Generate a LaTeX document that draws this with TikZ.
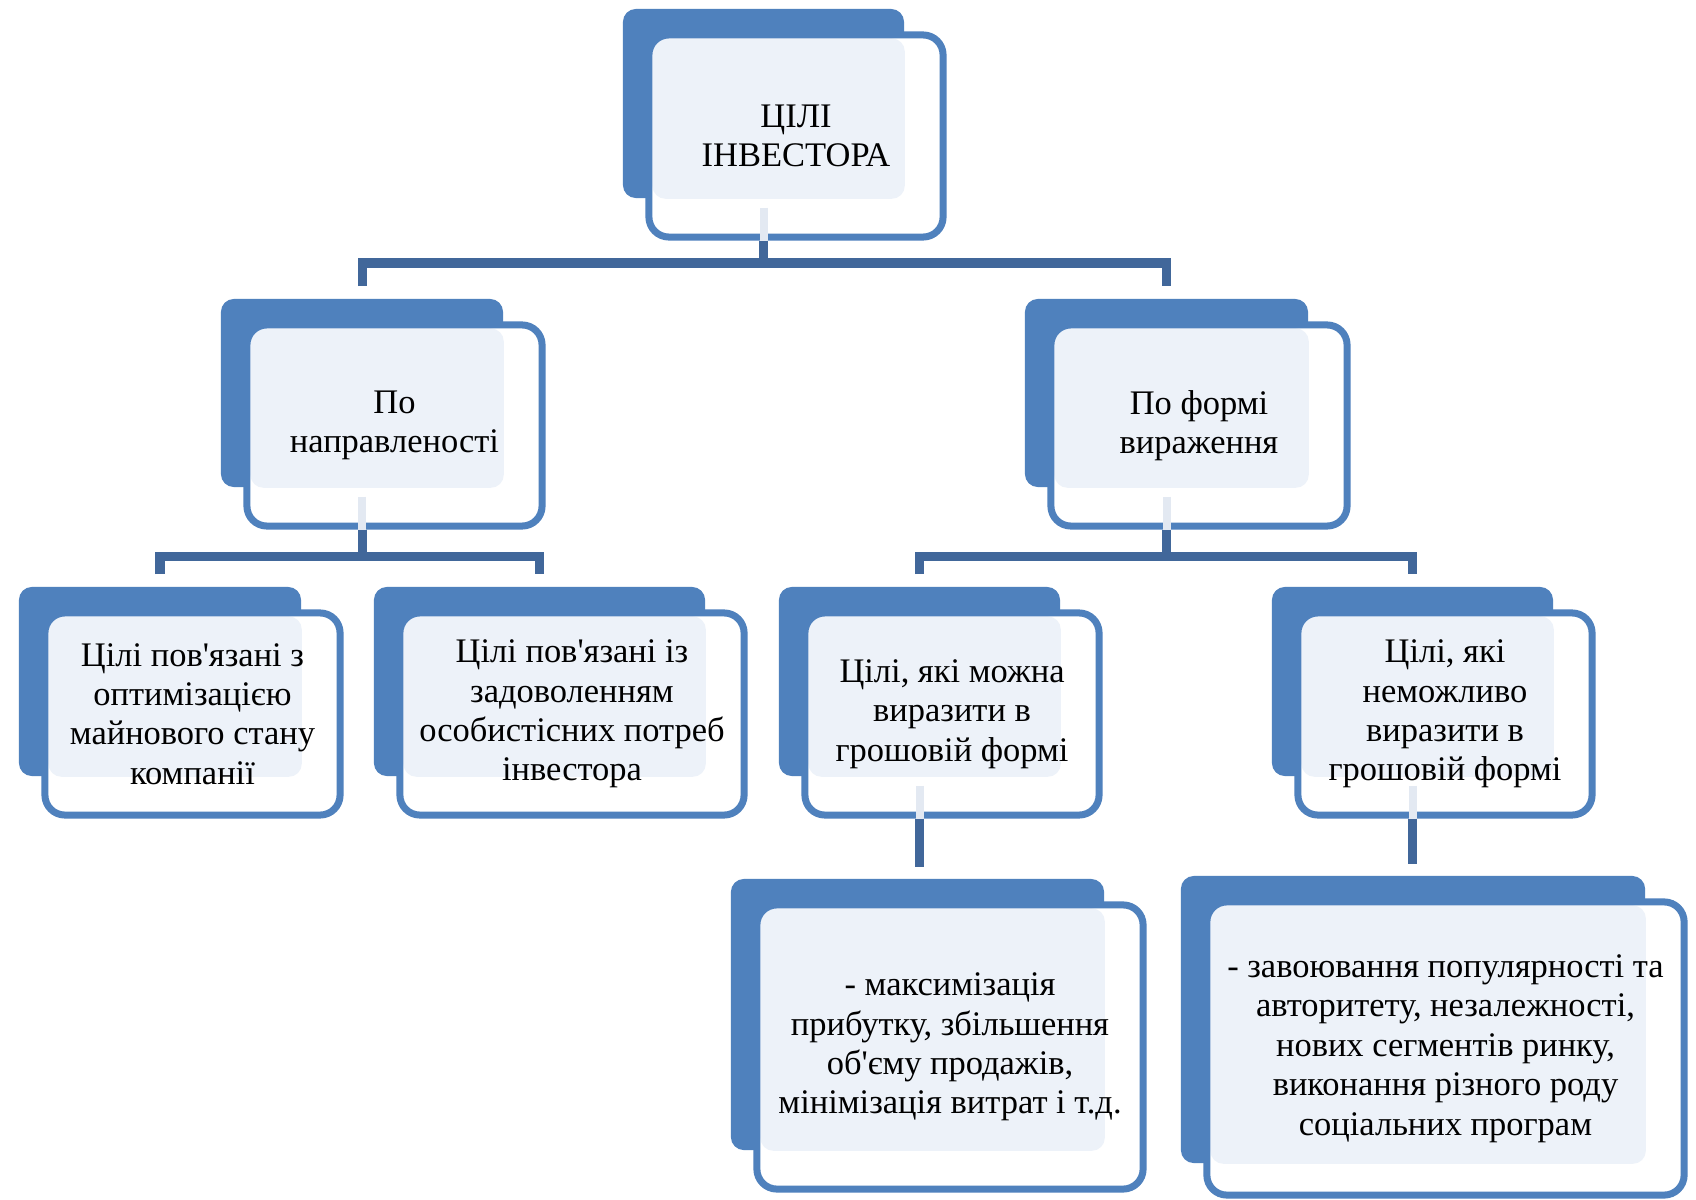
\documentclass[tikz,border=0pt]{standalone}
\usepackage{fontspec}
\setmainfont{Liberation Serif}
\newfontfamily\goalfont{LiberationSerif}[Extension=.ttf, UprightFont=*-Regular]

\definecolor{boxblue}{HTML}{4F81BD}
\definecolor{linkblue}{HTML}{41679A}
\definecolor{paleblue}{HTML}{EDF2F9}
\definecolor{ghostblue}{HTML}{E3E9F2}

\tikzset{
  backbox/.style={fill=boxblue, rounded corners=0.13cm, inner sep=0pt},
  frontbox/.style={draw=boxblue, line width=0.07cm, fill=white, rounded corners=0.2cm,
    inner sep=0pt, align=center, font=\goalfont\fontsize{9.8}{11.2}\selectfont,
    path picture={\fill[paleblue, rounded corners=0.13cm]
      ([shift={(0.035cm,-0.035cm)}]path picture bounding box.north west) rectangle (#1.south east);}},
  link/.style={draw=linkblue, line width=0.09cm},
  ghost/.style={draw=ghostblue, line width=0.08cm}
}

\begin{document}
\begin{tikzpicture}[x=0.01cm, y=-0.01cm]
    \useasboundingbox[fill=white] (0,0) rectangle (1696,1200);

    % top
    \node[backbox, minimum width=2.81cm, minimum height=1.89cm] (topB) at (763.5,103.5) {};
    \node[frontbox=topB, minimum width=2.94cm, minimum height=2.02cm] (top) at (796,136) {ЦІЛІ\\ІНВЕСТОРА};

    % second row
    \node[backbox, minimum width=2.82cm, minimum height=1.88cm] (dirB) at (362,393) {};
    \node[frontbox=dirB, minimum width=2.95cm, minimum height=2.01cm] (dir) at (394.5,425.5) {По\\направленості};
    \node[backbox, minimum width=2.83cm, minimum height=1.88cm] (formB) at (1166.5,393) {};
    \node[frontbox=formB, minimum width=2.96cm, minimum height=2.01cm] (form) at (1199,425.5) {По формі\\вираження};

    % third row
    \node[backbox, minimum width=2.82cm, minimum height=1.89cm] (aB) at (160,681.5) {};
    \node[frontbox=aB, minimum width=2.95cm, minimum height=2.02cm] (a) at (192.5,714) {Цілі пов'язані з\\оптимізацією\\майнового стану\\компанії};
    \node[backbox, minimum width=3.31cm, minimum height=1.89cm] (bB) at (539.5,681.5) {};
    \node[frontbox=bB, minimum width=3.44cm, minimum height=2.02cm] (b) at (572,714) {Цілі пов'язані із\\задоволенням\\особистісних потреб\\інвестора};
    \node[backbox, minimum width=2.81cm, minimum height=1.89cm] (cB) at (919.5,681.5) {};
    \node[frontbox=cB, minimum width=2.94cm, minimum height=2.02cm] (c) at (952,714) {Цілі, які можна\\виразити в\\грошовій формі};
    \node[backbox, minimum width=2.81cm, minimum height=1.89cm] (dB) at (1412.5,681.5) {};
    \node[frontbox=dB, minimum width=2.94cm, minimum height=2.02cm] (d) at (1445,714) {Цілі, які\\неможливо\\виразити в\\грошовій формі};

    % bottom row
    \node[backbox, minimum width=3.73cm, minimum height=2.71cm] (eB) at (917.5,1014.5) {};
    \node[frontbox=eB, minimum width=3.86cm, minimum height=2.84cm] (e) at (950,1047) {- максимізація\\прибутку, збільшення\\об'єму продажів,\\мінімізація витрат і т.д.};
    \node[backbox, minimum width=4.64cm, minimum height=2.87cm] (fB) at (1413,1019.5) {};
    \node[frontbox=fB, minimum width=4.77cm, minimum height=2.93cm] (f) at (1445.5,1048.5) {- завоювання популярності та\\авторитету, незалежності,\\нових сегментів ринку,\\виконання різного роду\\соціальних програм};

    \draw[ghost] ([yshift=-0.09cm]topB.south) -- (topB.south |- top.south);
    \draw[ghost] ([yshift=-0.09cm]dirB.south) -- (dirB.south |- dir.south);
    \draw[ghost] ([yshift=-0.09cm]formB.south) -- (formB.south |- form.south);
    \draw[ghost] ([yshift=-0.09cm]cB.south) -- (cB.south |- c.south);
    \draw[ghost] ([yshift=-0.09cm]dB.south) -- (dB.south |- d.south);

    \draw[link] (topB.south |- top.south) -- (topB.south |- 0,263);
    \draw[link] ([yshift=0.12cm]dirB.north) |- (topB.south |- 0,263) -| ([yshift=0.12cm]formB.north);
    \draw[link] (dirB.south |- dir.south) -- (dirB.south |- 0,556);
    \draw[link] ([yshift=0.12cm]aB.north) |- (dirB.south |- 0,556) -| ([yshift=0.12cm]bB.north);
    \draw[link] (formB.south |- form.south) -- (formB.south |- 0,556);
    \draw[link] ([yshift=0.12cm]cB.north) |- (formB.south |- 0,556) -| ([yshift=0.12cm]dB.north);
    \draw[link] (cB.south |- c.south) -- ([yshift=0.11cm]cB.south |- eB.north);
    \draw[link] (dB.south |- d.south) -- ([yshift=0.11cm]dB.south |- fB.north);
\end{tikzpicture}
\end{document}
